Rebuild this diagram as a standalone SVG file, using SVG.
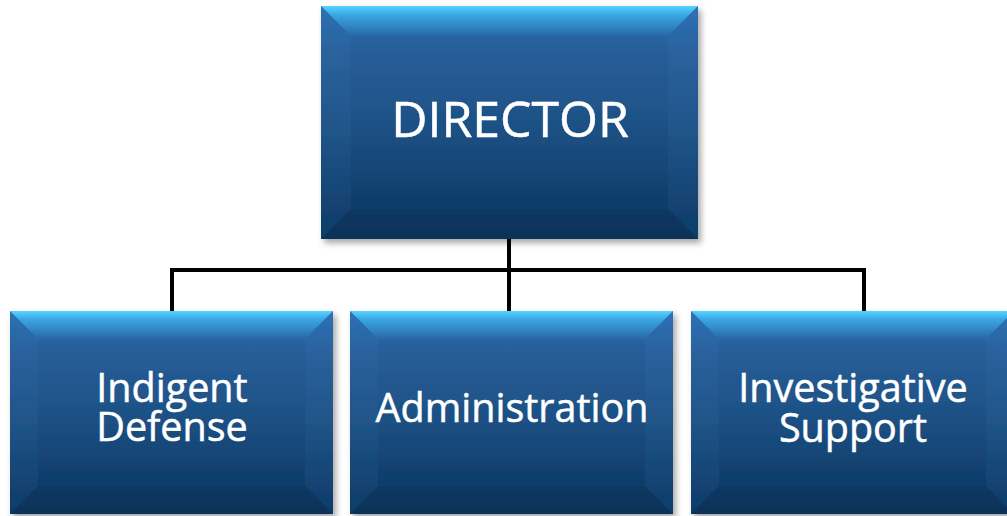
<svg xmlns="http://www.w3.org/2000/svg" width="1007" height="516" viewBox="0 0 1007 516">
<defs>
<linearGradient id="body" x1="0" y1="0" x2="0" y2="1">
<stop offset="0" stop-color="#2a6fb2"/>
<stop offset="0.2" stop-color="#285e98"/>
<stop offset="0.55" stop-color="#1c4f82"/>
<stop offset="0.9" stop-color="#0c3a66"/>
<stop offset="1" stop-color="#0b365e"/>
</linearGradient>
<linearGradient id="top" x1="0" y1="0" x2="0" y2="1">
<stop offset="0" stop-color="#55d4ff"/>
<stop offset="0.3" stop-color="#3aa6e4"/>
<stop offset="1" stop-color="#2968a6"/>
</linearGradient>
<filter id="sh" x="-10%" y="-10%" width="125%" height="130%">
<feDropShadow dx="3" dy="4" stdDeviation="3" flood-color="#000" flood-opacity="0.35"/>
</filter>
<style>
.body{fill:url(#body)}
.top{fill:url(#top)}
.side{fill:#5aa0e0;fill-opacity:0.07}
.bot{fill:#000000;fill-opacity:0.06}
.lbl{font-family:"Open Sans","Noto Sans","DejaVu Sans",sans-serif;fill:#ffffff;stroke:#ffffff;stroke-width:0.5;text-anchor:middle}
.conn{stroke:#000;stroke-width:4;fill:none}
</style>
</defs>
<g id="connectors">
<path class="conn" d="M509 239 V311 M172 270 H864 M172 268 V311 M864 268 V311"/>
</g>
<g id="director">
<g filter="url(#sh)">
<rect class="body" x="321" y="6" width="377" height="233"/>
<polygon class="top" points="321,6 698,6 668,36 351,36"/>
<polygon class="side" points="321,6 351,36 351,209 321,239"/>
<polygon class="side" points="698,6 668,36 668,209 698,239"/>
<polygon class="bot" points="321,239 351,209 668,209 698,239"/>
</g>
<text class="lbl" x="510" y="137" font-size="50">DIRECTOR</text>
</g>
<g id="indigent">
<g filter="url(#sh)">
<rect class="body" x="10" y="311" width="323" height="203"/>
<polygon class="top" points="10,311 333,311 305,339 38,339"/>
<polygon class="side" points="10,311 38,339 38,486 10,514"/>
<polygon class="side" points="333,311 305,339 305,486 333,514"/>
<polygon class="bot" points="10,514 38,486 305,486 333,514"/>
</g>
<text class="lbl" x="172" y="402" font-size="39.5">Indigent</text>
<text class="lbl" x="172" y="441" font-size="39.5">Defense</text>
</g>
<g id="administration">
<g filter="url(#sh)">
<rect class="body" x="350" y="311" width="323" height="203"/>
<polygon class="top" points="350,311 673,311 645,339 378,339"/>
<polygon class="side" points="350,311 378,339 378,486 350,514"/>
<polygon class="side" points="673,311 645,339 645,486 673,514"/>
<polygon class="bot" points="350,514 378,486 645,486 673,514"/>
</g>
<text class="lbl" x="512" y="422" font-size="39.5">Administration</text>
</g>
<g id="investigative">
<g filter="url(#sh)">
<rect class="body" x="691" y="311" width="323" height="203"/>
<polygon class="top" points="691,311 1014,311 986,339 719,339"/>
<polygon class="side" points="691,311 719,339 719,486 691,514"/>
<polygon class="side" points="1014,311 986,339 986,486 1014,514"/>
<polygon class="bot" points="691,514 719,486 986,486 1014,514"/>
</g>
<text class="lbl" x="853" y="402" font-size="39.5">Investigative</text>
<text class="lbl" x="853" y="442" font-size="39.5">Support</text>
</g>
</svg>
